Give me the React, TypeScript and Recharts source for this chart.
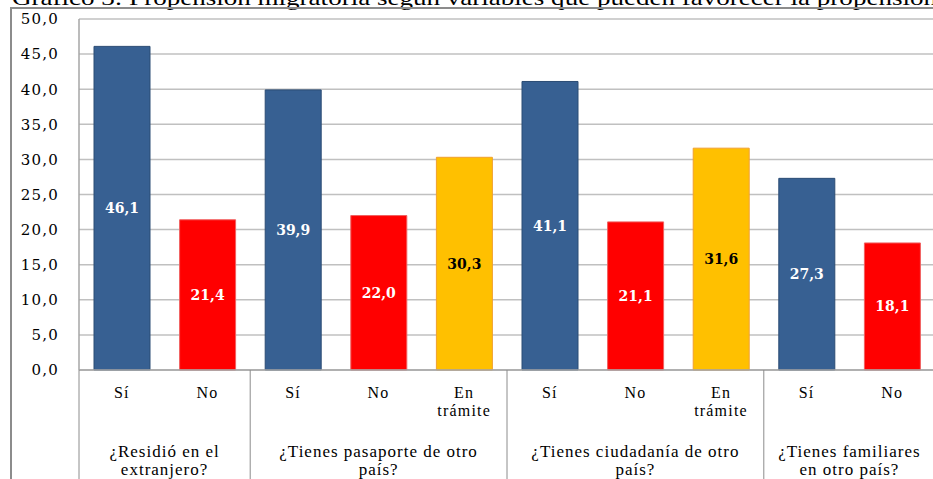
import { BarChart, Bar, XAxis, YAxis, CartesianGrid, Cell, LabelList } from "recharts";

const categories = ["Sí", "No", "Sí", "No", "En trámite", "Sí", "No", "En trámite", "Sí", "No"];
const values = [46.1, 21.4, 39.9, 22.0, 30.3, 41.1, 21.1, 31.6, 27.3, 18.1];
const groupOf = [0, 0, 1, 1, 1, 2, 2, 2, 3, 3];
const groups = [
  ["¿Residió en el", "extranjero?"],
  ["¿Tienes pasaporte de otro", "país?"],
  ["¿Tienes ciudadanía de otro", "país?"],
  ["¿Tienes familiares", "en otro país?"],
];
const yTicks = [0, 5, 10, 15, 20, 25, 30, 35, 40, 45, 50];

const COLORS: Record<string, { fill: string; stroke: string; text: string }> = {
  "Sí": { fill: "#376092", stroke: "#2b4c74", text: "#ffffff" },
  No: { fill: "#ff0000", stroke: "#f06060", text: "#ffffff" },
  "En trámite": { fill: "#ffc000", stroke: "#f0a030", text: "#000000" },
};

const data = categories.map((c, i) => ({ cat: c, value: values[i], group: groupOf[i], idx: i }));

const fmt = (v: number) => v.toFixed(1).replace(".", ",");
const SERIF = "Liberation Serif, Times New Roman, serif";
const NUM = "DejaVu Serif, serif";

function CatTick(props: any) {
  const { x, payload, index } = props;
  const band = (payload.offset ?? 42.8) * 2;
  const lines = categories[index].split(" ");
  const g = groupOf[index];
  const isStart = index === 0 || groupOf[index - 1] !== g;
  const count = groupOf.filter((v) => v === g).length;
  const left = x - band / 2;
  const axisY = 370;
  return (
    <g>
      {lines.map((l: string, k: number) => (
        <text key={k} x={x} y={axisY + 28 + k * 18} textAnchor="middle" fontFamily={SERIF} fontSize={16} letterSpacing={1.2} fill="#000">
          {l}
        </text>
      ))}
      {isStart && (
        <g>
          <line x1={left} y1={axisY} x2={left} y2={axisY + 120} stroke="#8c8c8c" />
          {groups[g].map((l, k) => (
            <text key={k} x={left + (band * count) / 2} y={axisY + 87 + k * 18} textAnchor="middle" fontFamily={SERIF} fontSize={17} letterSpacing={1} fill="#000">
              {l}
            </text>
          ))}
        </g>
      )}
    </g>
  );
}

function BarLabel(props: any) {
  const { x, y, width, height, index } = props;
  return (
    <text
      x={x + width / 2}
      y={y + height / 2}
      textAnchor="middle"
      dominantBaseline="central"
      fontFamily={NUM}
      fontWeight="bold"
      fontSize={14}
      fill={COLORS[categories[index]].text}
    >
      {fmt(values[index])}
    </text>
  );
}

export default function App() {
  return (
    <div style={{ position: "absolute", left: 0, top: 0, width: 933, height: 479, overflow: "hidden", background: "#fff" }}>
      <svg width={933} height={20} style={{ position: "absolute", left: 0, top: 0 }}>
        <text x={12} y={5} fontFamily={SERIF} fontSize={22} textLength={925} lengthAdjust="spacingAndGlyphs" fill="#000">
          Gráfico 3: Propensión migratoria según variables que pueden favorecer la propensión
        </text>
      </svg>
      <div style={{ position: "absolute", left: 10, top: 7, width: 960, height: 520, border: "2px solid #8c8c8c", boxSizing: "border-box" }} />
      <div style={{ position: "absolute", left: 0, top: 0 }}>
        <BarChart width={935} height={479} data={data} margin={{ top: 19, right: 0, left: 0, bottom: 0 }}>
          <CartesianGrid vertical={false} stroke="#c0c0c0" strokeWidth={1.5} />
          <XAxis
            dataKey="idx"
            type="category"
            height={109}
            interval={0}
            tickLine={false}
            axisLine={{ stroke: "#a6a6a6", strokeWidth: 1.5 }}
            tick={<CatTick />}
          />
          <YAxis
            width={79}
            domain={[0, 50]}
            ticks={yTicks}
            interval={0}
            tickFormatter={fmt}
            tickLine={false}
            tickMargin={14}
            axisLine={{ stroke: "#a6a6a6", strokeWidth: 1.5 }}
            tick={{ fontFamily: NUM, fontSize: 15, fill: "#000", letterSpacing: 1.2 }}
          />
          <Bar dataKey="value" barSize={56} isAnimationActive={false}>
            {data.map((d, i) => (
              <Cell key={i} fill={COLORS[d.cat].fill} stroke={COLORS[d.cat].stroke} />
            ))}
            <LabelList dataKey="value" content={<BarLabel />} />
          </Bar>
        </BarChart>
      </div>
    </div>
  );
}
